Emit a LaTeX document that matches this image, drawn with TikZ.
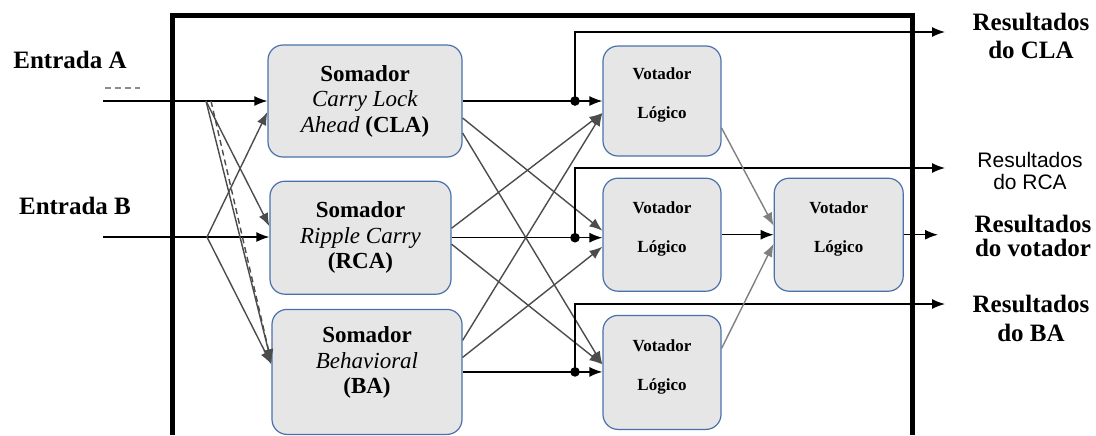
\documentclass[tikz,border=0pt]{standalone}
\usepackage{fontspec}
\setmainfont{Liberation Serif}
\newfontfamily\arialfont{Liberation Sans}
\usetikzlibrary{positioning,arrows.meta}

\definecolor{boxblue}{RGB}{74,112,172}
\definecolor{boxgray}{RGB}{230,230,230}

\tikzset{
  adder/.style={draw=boxblue, fill=boxgray, rounded corners=7.5pt, align=center,
    line width=0.6pt, inner sep=0pt, font=\fontsize{11.5}{12.75}\selectfont},
  voter/.style={adder, minimum width=59pt, font=\bfseries\fontsize{8.5}{10}\selectfont},
  link/.style={->, line width=0.7pt},
  cross/.style={link, draw=black!70},
  soft/.style={link, draw=black!50},
  frame/.style={line width=2.5pt},
  result/.style={align=center, font=\bfseries\fontsize{12.5}{14}\selectfont},
  junc/.style={circle, fill, inner sep=1.7pt},
  >={Latex[length=6.5pt,width=5pt]}
}

\newcommand{\votlabel}{Votador\\[9.5pt]Lógico\\[-2.5pt]\mbox{}}

\begin{document}
\begin{tikzpicture}[x=0.5pt, y=-0.5pt]
  \useasboundingbox (0,0) rectangle (1096,435);
  \draw[frame] (172,435) |- (912,15) -- (912,435);

  \node[adder, minimum width=97pt, minimum height=56pt] (cla) at (365,101)
    {\textbf{Somador}\\\textit{Carry Lock}\\\textit{Ahead} \textbf{(CLA)}};
  \node[adder, minimum width=90.5pt, minimum height=56.5pt, below=11.5pt of cla, xshift=-2.25pt] (rca)
    {\textbf{Somador}\\\textit{Ripple Carry}\\\textbf{(RCA)}};
  \node[adder, minimum width=95pt, minimum height=62.5pt, below=7pt of rca, xshift=3.25pt] (ba)
    {\textbf{Somador}\\\textit{Behavioral}\\\textbf{(BA)}\\[-1.25pt]\mbox{}};

  \node[voter, minimum height=55pt] (v1) at (662,101) {\votlabel};
  \node[voter, minimum height=56.5pt, below=10.5pt of v1] (v2) {\votlabel};
  \node[voter, minimum height=57pt, below=11.5pt of v2] (v3) {\votlabel};
  \node[voter, minimum width=64.5pt, minimum height=56.5pt, right=26pt of v2] (v4) {\votlabel};

  \node[result] (entA) at (70,60) {Entrada A};
  \node[result] (entB) at (75,206) {Entrada B};
  \node[result] (resCLA) at (1031,36) {Resultados\\do CLA};
  \node[align=center, font=\arialfont\fontsize{10.5}{11}\selectfont] (resRCA) at (1030,171) {Resultados\\do RCA};
  \node[result, font=\bfseries\fontsize{12.5}{12}\selectfont] (resVot) at (1033,236) {Resultados\\do votador};
  \node[result, font=\bfseries\fontsize{12.5}{14.5}\selectfont] (resBA) at (1031,318) {Resultados\\do BA};

  \coordinate (inA) at (103,101);
  \coordinate (inB) at (103,237);
  \coordinate (forkA) at (206,101);
  \coordinate (forkB) at (207,237);
  \coordinate (jx) at (575,0);
  \coordinate (j1) at (cla.east -| jx);
  \coordinate (j2) at (rca.east -| jx);
  \coordinate (j3) at (ba.east -| jx);
  \coordinate (o1) at (945,32);
  \coordinate (o2) at (945,168);
  \coordinate (o3) at (945,304);
  \coordinate (ov) at (938,0);

  % entradas
  \draw[black!45, densely dashed, line width=0.6pt] (105,88) -- (140,88);
  \draw[link] (inA) -- (inA -| cla.west);
  \draw[link] (inB) -- (inB -| rca.west);
  \draw[cross] (forkA) -- ([yshift=5.75pt]rca.west);
  \draw[cross] (forkA) -- ([yshift=4.75pt]ba.west);
  \draw[cross, densely dashed] ([xshift=2.5pt]forkA) -- ([yshift=4.75pt]ba.west);
  \draw[cross] (forkB) -- ([yshift=-5.5pt]cla.west);
  \draw[cross] (forkB) -- ([yshift=3.75pt]ba.west);

  % somadores -> votadores
  \draw[link] (cla.east) -- (cla.east -| v1.west);
  \draw[link] (rca.east) -- (rca.east -| v2.west);
  \draw[link] (ba.east) -- (ba.east -| v3.west);
  \draw[cross] ([yshift=-8.5pt]cla.east) -- ([yshift=2pt]v2.west);
  \draw[cross] ([yshift=-16pt]cla.east) -- ([yshift=4pt]v3.west);
  \draw[cross] ([yshift=4.75pt]rca.east) -- ([yshift=-6pt]v1.west);
  \draw[cross] ([yshift=-3.25pt]rca.east) -- ([yshift=4pt]v3.west);
  \draw[cross] ([yshift=15.75pt]ba.east) -- ([yshift=-6pt]v1.west);
  \draw[cross] ([yshift=7.25pt]ba.east) -- ([yshift=-6pt]v2.west);

  \node[junc] at (j1) {};
  \node[junc] at (j2) {};
  \node[junc] at (j3) {};
  \draw[link] (j1) |- (o1);
  \draw[link] (j2) |- (o2);
  \draw[link] (j3) |- (o3);

  % votador final
  \draw[soft] ([yshift=-13.5pt]v1.east) -- ([yshift=4.5pt]v4.west);
  \draw[link] (v2.east) -- (v4.west);
  \draw[soft] ([yshift=12pt]v3.east) -- ([yshift=-4.5pt]v4.west);
  \draw[link] (v4.east) -- (v4.east -| ov);
\end{tikzpicture}
\end{document}
